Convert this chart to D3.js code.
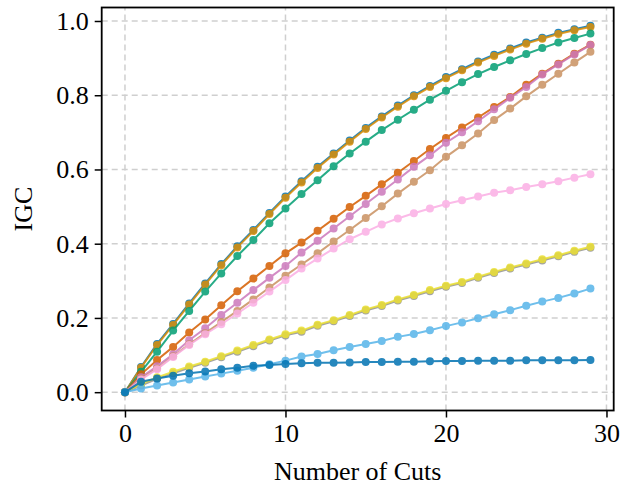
<!DOCTYPE html>
<html><head><meta charset="utf-8">
<script src="https://cdn.jsdelivr.net/npm/d3@7"></script>
<style>body{margin:0;background:#fff}svg{display:block}</style>
</head><body>
<script>
const cuts = d3.range(0, 30);
const xTicks = [0, 10, 20, 30];
const yTicks = [0, 0.2, 0.4, 0.6, 0.8, 1.0];
const xLabel = "Number of Cuts";
const yLabel = "IGC";
const colors = ["#0173b2","#de8f05","#029e73","#d55e00","#cc78bc","#ca9161","#fbafe4","#949494","#ece133","#56b4e9","#0173b2"];

const s1 = [0,0.068,0.130,0.184,0.239,0.293,0.345,0.393,0.437,0.483,0.527,0.568,0.607,0.643,0.678,0.712,0.743,0.772,0.800,0.825,0.849,0.870,0.891,0.909,0.926,0.942,0.955,0.968,0.978,0.987];
const s2 = [0,0.066,0.127,0.181,0.236,0.290,0.342,0.390,0.434,0.480,0.524,0.565,0.604,0.640,0.675,0.709,0.740,0.769,0.797,0.822,0.846,0.867,0.888,0.906,0.923,0.939,0.952,0.965,0.975,0.984];
const s3 = [0,0.055,0.109,0.166,0.219,0.271,0.320,0.367,0.410,0.455,0.495,0.534,0.571,0.609,0.643,0.675,0.706,0.734,0.761,0.788,0.812,0.835,0.857,0.876,0.894,0.911,0.927,0.942,0.954,0.966];
const s4 = [0,0.048,0.087,0.122,0.161,0.196,0.234,0.272,0.306,0.340,0.374,0.403,0.435,0.467,0.499,0.529,0.560,0.591,0.623,0.655,0.685,0.713,0.740,0.768,0.795,0.828,0.858,0.885,0.912,0.936];
const s5 = [0,0.040,0.070,0.102,0.140,0.172,0.208,0.241,0.275,0.308,0.340,0.376,0.408,0.441,0.474,0.507,0.540,0.573,0.607,0.638,0.672,0.700,0.730,0.762,0.793,0.822,0.856,0.883,0.910,0.935];
const s6 = [0,0.036,0.064,0.097,0.129,0.159,0.189,0.219,0.250,0.282,0.314,0.344,0.374,0.406,0.437,0.469,0.501,0.535,0.567,0.598,0.634,0.665,0.697,0.733,0.764,0.797,0.828,0.858,0.888,0.917];
const s7 = [0,0.034,0.062,0.095,0.127,0.156,0.183,0.212,0.241,0.271,0.302,0.333,0.360,0.387,0.412,0.432,0.452,0.468,0.482,0.495,0.507,0.517,0.527,0.537,0.544,0.553,0.560,0.568,0.578,0.587];
const s8 = [0,0.018,0.036,0.051,0.066,0.079,0.094,0.109,0.124,0.139,0.153,0.163,0.179,0.191,0.205,0.220,0.232,0.247,0.259,0.272,0.284,0.294,0.308,0.321,0.333,0.344,0.355,0.366,0.378,0.389];
const s9 = [0,0.022,0.040,0.055,0.069,0.082,0.097,0.112,0.127,0.142,0.156,0.166,0.182,0.194,0.208,0.223,0.235,0.250,0.262,0.275,0.287,0.297,0.311,0.324,0.336,0.347,0.358,0.369,0.381,0.392];
const s10 = [0,0.010,0.018,0.026,0.034,0.042,0.050,0.058,0.066,0.075,0.085,0.096,0.103,0.113,0.122,0.130,0.138,0.149,0.157,0.167,0.178,0.188,0.199,0.210,0.221,0.233,0.244,0.254,0.266,0.279];
const s11 = [0,0.028,0.037,0.044,0.051,0.056,0.062,0.066,0.071,0.073,0.076,0.078,0.079,0.079,0.080,0.081,0.081,0.082,0.082,0.083,0.084,0.084,0.085,0.085,0.085,0.086,0.086,0.086,0.086,0.087];
const series = [s1,s2,s3,s4,s5,s6,s7,s8,s9,s10,s11];

const W = 630, H = 489;
const svg = d3.select("body").append("svg").attr("width", W).attr("height", H);
const font = "'Liberation Serif','Times New Roman',serif";

const xMin = d3.min(cuts), xMax = d3.max(cuts);
const xPad = (xMax - xMin) * 0.05;
const yMax = d3.max(series, s => d3.max(s)), yMin = 0;
const yPad = (yMax - yMin) * 0.05;
const x = d3.scaleLinear().domain([xMin - xPad, xMax + xPad]).range([101.7, 613.7]);
const y = d3.scaleLinear().domain([yMin - yPad, yMax + yPad]).range([410.5, 7.5]);

const [x0, x1] = x.range(), [y0, y1] = y.range();

// grid
const grid = svg.append("g").attr("stroke", "#cfcfcf").attr("stroke-width", 1.5).attr("stroke-dasharray", "6,4");
grid.selectAll(".gx").data(xTicks).join("line")
  .attr("x1", d => x(d)).attr("x2", d => x(d)).attr("y1", y0).attr("y2", y1);
grid.selectAll(".gy").data(yTicks).join("line")
  .attr("y1", d => y(d)).attr("y2", d => y(d)).attr("x1", x0).attr("x2", x1);

// series
const line = d3.line().x((d, i) => x(cuts[i])).y(d => y(d));
series.forEach((s, k) => {
  const g = svg.append("g").attr("opacity", 0.85);
  g.append("path").datum(s).attr("d", line).attr("fill", "none")
    .attr("stroke", colors[k]).attr("stroke-width", 2);
  g.selectAll("circle").data(s).join("circle")
    .attr("cx", (d, i) => x(cuts[i])).attr("cy", d => y(d)).attr("r", 4)
    .attr("fill", colors[k]);
});

// axes
const xAxis = d3.axisBottom(x).tickValues(xTicks).tickFormat(d3.format("d")).tickSize(7).tickPadding(6);
const yAxis = d3.axisLeft(y).tickValues(yTicks).tickFormat(d3.format(".1f")).tickSize(7).tickPadding(6);
const gx = svg.append("g").attr("transform", `translate(0,${y0})`).call(xAxis);
const gy = svg.append("g").attr("transform", `translate(${x0},0)`).call(yAxis);
[gx, gy].forEach(g => {
  g.select(".domain").remove();
  g.selectAll(".tick line").attr("stroke", "#000").attr("stroke-width", 1.5);
  g.selectAll(".tick text").attr("font-family", font).attr("font-size", 26).attr("fill", "#000");
});

// frame
svg.append("rect").attr("x", x0).attr("y", y1).attr("width", x1 - x0).attr("height", y0 - y1)
  .attr("fill", "none").attr("stroke", "#000").attr("stroke-width", 1.8);

svg.append("text").attr("x", (x0 + x1) / 2).attr("y", 480).attr("text-anchor", "middle")
  .attr("font-family", font).attr("font-size", 26).text(xLabel);
svg.append("text").attr("transform", `translate(32,${(y0 + y1) / 2}) rotate(-90)`).attr("text-anchor", "middle")
  .attr("font-family", font).attr("font-size", 26).text(yLabel);
</script>
</body></html>
